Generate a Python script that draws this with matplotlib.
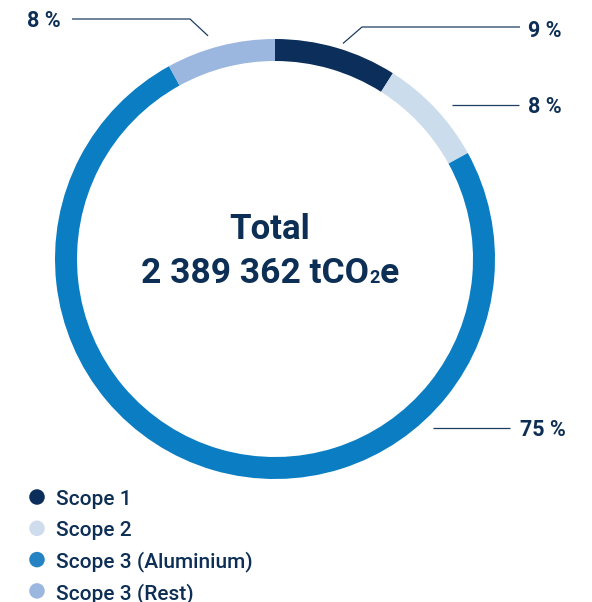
import numpy as np
from matplotlib import pyplot as plt

plt.rcParams['font.family'] = ['Roboto', 'DejaVu Sans']

# Data
categories = ['Scope 1', 'Scope 2', 'Scope 3 (Aluminium)', 'Scope 3 (Rest)']
shares = [9, 8, 75, 8]
pct_labels = ['9 %', '8 %', '75 %', '8 %']
colors = ['#0b2f5a', '#cbdcec', '#0b7dc2', '#9bb7df']
legend_colors = ['#0b2f5a', '#cfdcee', '#2583c4', '#9bb7df']
total_title = 'Total'
total_value = '2 389 362 tCO'   # followed by subscript 2 and "e"

text_col = '#0d2f55'
line_col = '#1d3d63'

W, H = 592, 602
fig = plt.figure(figsize=(W / 100, H / 100), dpi=100)
ax = fig.add_axes([0, 0, 1, 1])

# donut (pixel coords, y axis flipped so it reads like the image)
cx, cy, R = 275, 259, 220
ax.pie(shares, colors=colors, startangle=-90, counterclock=True,
       radius=R, center=(cx, cy),
       wedgeprops=dict(width=22, edgecolor='none', linewidth=0))
ax.set_xlim(0, W)
ax.set_ylim(H, 0)
ax.axis('off')

# centre text (sits a little left of the ring centre in the original)
tx = cx - 5
ax.text(tx, 239, total_title, ha='center', va='baseline', fontsize=25,
        fontweight='bold', color=text_col)

# second line built from pieces so the subscript sits small on the baseline
renderer = fig.canvas.get_renderer()
pieces = [(total_value, 25.5), ('2', 13), ('e', 25.5)]
objs = []
for s, fs in pieces:
    t = ax.text(0, 283, s, ha='left', va='baseline', fontsize=fs,
                fontweight='bold', color=text_col)
    objs.append(t)
widths = [t.get_window_extent(renderer).width for t in objs]
x = tx - sum(widths) / 2
for t, w in zip(objs, widths):
    t.set_x(x)
    x += w


def ring_point(angle_cw, r):
    a = np.radians(angle_cw)
    return cx + r * np.sin(a), cy - r * np.cos(a)


# leader lines: (angle clockwise from top, radius, elbow, end x, text x, baseline, align)
leaders = [
    (17.5, 226, (362, 27), 520, 528, 37, 'left'),
    (49.0, 235, None, 519, 528, 113, 'left'),
    (137.0, 231, None, 510, 520, 436, 'left'),
    (343.3, 233, (190, 19), 72, 61, 27, 'right'),
]
for lab, (ang, r, elbow, xend, xt, yt, ha) in zip(pct_labels, leaders):
    x0, y0 = ring_point(ang, r)
    if elbow is None:
        xs, ys = [x0, xend], [y0, y0]
    else:
        xs, ys = [x0, elbow[0], xend], [y0, elbow[1], elbow[1]]
    ax.plot(xs, ys, color=line_col, lw=0.9, solid_capstyle='butt')
    ax.text(xt, yt, lab, ha=ha, va='baseline', fontsize=15.5,
            fontweight='bold', color=text_col)

# legend
for i, (name, c) in enumerate(zip(categories, legend_colors)):
    y = 497 + i * 31.3
    ax.scatter([37], [y], s=125, color=c, edgecolors='none')
    ax.text(56, y + 8, name, ha='left', va='baseline', fontsize=15,
            fontweight='medium', color=text_col)

fig.savefig('out.png', dpi=100)
